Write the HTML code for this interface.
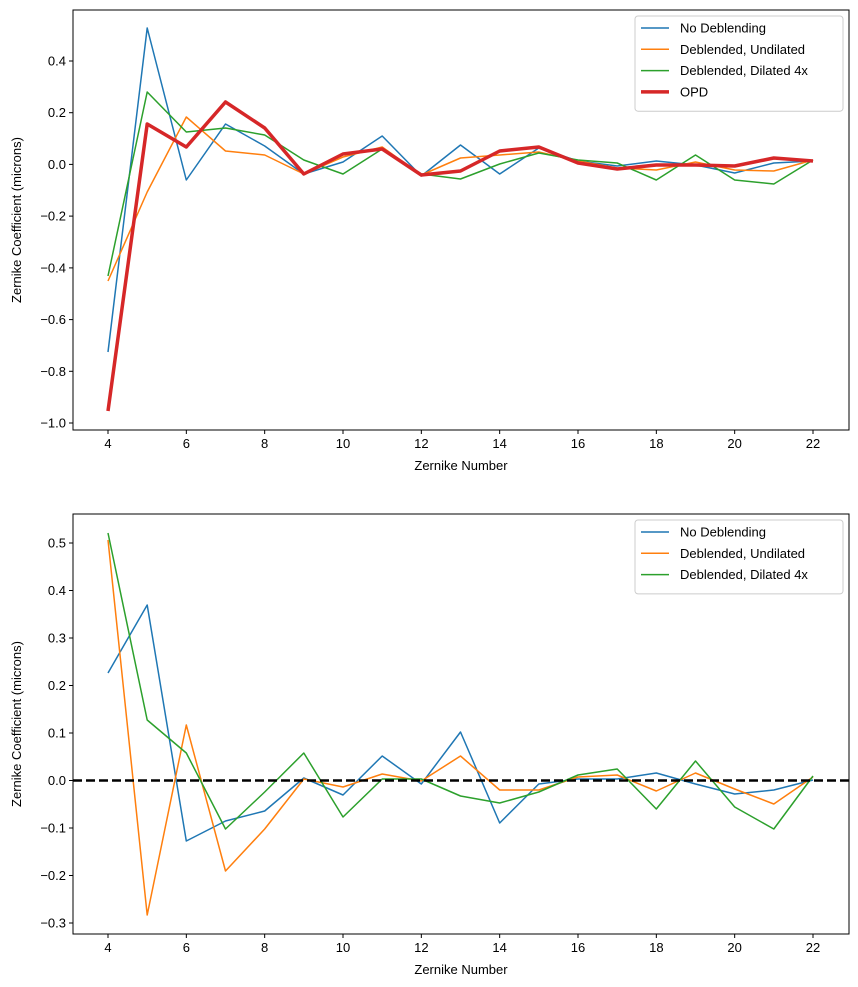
<!DOCTYPE html>
<html><head><meta charset="utf-8"><style>body{margin:0;background:#fff}svg{display:block}text{font-family:"Liberation Sans",sans-serif;font-size:13px;fill:#000}</style></head>
<body>
<svg id="s" width="858" height="987" xmlns="http://www.w3.org/2000/svg"></svg>
<script>
const s=document.getElementById('s');let h='';
const X=n=>108+(n-4)*39.1667;
const C={b:'#1f77b4',o:'#ff7f0e',g:'#2ca02c',r:'#d62728'};
function line(ys,c,w){let p=ys.map((y,i)=>X(i+4).toFixed(1)+','+y).join(' ');h+=`<polyline points="${p}" fill="none" stroke="${c}" stroke-width="${w}" stroke-linejoin="round"/>`;}
function axes(top,bot,yt){
 h+=`<rect x="73" y="${top}" width="776" height="${bot-top}" fill="none" stroke="#000" stroke-width="1"/>`;
 for(let n=4;n<=22;n+=2){let x=X(n);h+=`<line x1="${x}" y1="${bot}" x2="${x}" y2="${bot+4}" stroke="#000"/><text x="${x}" y="${bot+18}" text-anchor="middle">${n}</text>`;}
 yt.forEach(([v,y])=>{h+=`<line x1="69" y1="${y}" x2="73" y2="${y}" stroke="#000"/><text x="66" y="${y+4.5}" text-anchor="end">${v}</text>`;});
 h+=`<text x="461" y="${bot+40}" text-anchor="middle">Zernike Number</text>`;
 let cy=(top+bot)/2;h+=`<text transform="translate(21,${cy}) rotate(-90)" text-anchor="middle">Zernike Coefficient (microns)</text>`;
}
function legend(y0,items){
 h+=`<rect x="635" y="${y0}" width="208" height="${items.length*21.3+10}" rx="3" fill="#fff" fill-opacity="0.8" stroke="#ccc"/>`;
 items.forEach(([t,c,w],i)=>{let y=y0+12+i*21.3;h+=`<line x1="641" y1="${y}" x2="669" y2="${y}" stroke="${c}" stroke-width="${w}"/><text x="680" y="${y+4.5}">${t}</text>`;});
}
axes(10,430,[['0.4',61],['0.2',112.7],['0.0',164.4],['−0.2',216.1],['−0.4',267.9],['−0.6',319.6],['−0.8',371.3],['−1.0',423]]);
line([352,28,180,124,146,174,162,136,176,145,174,148,161,166,161,165,173,163,161],C.b,1.5);
line([281,192,117,151,155,174,157,147,175,158,155,152,161,168,170,162,170,171,160],C.o,1.5);
line([276,92,132,128,135,160,174,149,174,179,164,153,160,163,180,155,180,184,160],C.g,1.5);
line([411,124,147,102,128,174,154,149,175,171,151,147,163,169,165,165,166,158,161],C.r,3.5);
legend(16,[['No Deblending',C.b,1.5],['Deblended, Undilated',C.o,1.5],['Deblended, Dilated 4x',C.g,1.5],['OPD',C.r,3.5]]);
axes(514,934,[['0.5',543],['0.4',590.5],['0.3',638],['0.2',685.5],['0.1',733],['0.0',780.5],['−0.1',828],['−0.2',875.5],['−0.3',923]]);
line([673,605,841,821,811,778,795,756,784,732,823,784,779,779,773,784,794,790,780],C.b,1.5);
line([540,915,725,871,829,779,787,774,781,756,790,790,777,775,791,773,789,804,777],C.o,1.5);
line([533,720,753,829,792,753,817,779,779,796,803,792,775,769,809,761,807,829,776],C.g,1.5);
h+=`<line x1="73" y1="780.5" x2="849" y2="780.5" stroke="#000" stroke-width="2.5" stroke-dasharray="9,4"/>`;
legend(520,[['No Deblending',C.b,1.5],['Deblended, Undilated',C.o,1.5],['Deblended, Dilated 4x',C.g,1.5]]);
s.innerHTML=h;
</script>
</body></html>
